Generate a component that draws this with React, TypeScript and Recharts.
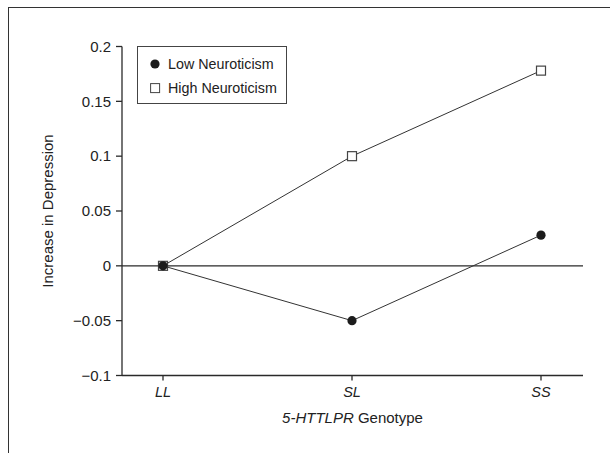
import { LineChart, Line, XAxis, YAxis, ReferenceLine } from "recharts";

const genotypes = ["LL", "SL", "SS"];
const lowNeuroticism = [0, -0.05, 0.028];
const highNeuroticism = [0, 0.1, 0.178];
const yTicks = [-0.1, -0.05, 0, 0.05, 0.1, 0.15, 0.2];

const data = genotypes.map((g, i) => ({
  genotype: g,
  low: lowNeuroticism[i],
  high: highNeuroticism[i],
}));

const FONT = "'Liberation Sans', Arial, sans-serif";
const INK = "#2a2a2a";

const fmt = (v: number) => (v === 0 ? "0" : v < 0 ? "\u2212" + Math.abs(v) : String(v));

function CircleDot(props: any) {
  const { cx, cy } = props;
  if (cx == null || cy == null) return null;
  return <circle cx={cx} cy={cy} r={4.6} fill="#1c1c1c" />;
}

function SquareDot(props: any) {
  const { cx, cy } = props;
  if (cx == null || cy == null) return null;
  return <rect x={cx - 4.5} y={cy - 4.5} width={9} height={9} fill="#fff" stroke="#444" strokeWidth={1.2} />;
}

// legend sits inside the plot area, top-left, with a thin frame
function LegendBox() {
  const row = { display: "flex", alignItems: "center", height: 24, whiteSpace: "nowrap" } as const;
  return (
    <div
      style={{
        position: "absolute",
        left: 137,
        top: 46,
        border: "1px solid #444",
        boxSizing: "border-box",
        width: 150,
        height: 58,
        padding: "5px 0 0 12px",
        fontFamily: FONT,
        fontSize: 14.3,
        color: "#222",
        background: "#fff",
      }}
    >
      <div style={row}>
        <svg width={12} height={12} style={{ marginRight: 6 }}>
          <circle cx={5} cy={6} r={4.6} fill="#1c1c1c" />
        </svg>
        Low Neuroticism
      </div>
      <div style={row}>
        <svg width={12} height={12} style={{ marginRight: 6 }}>
          <rect x={0.6} y={1.6} width={9} height={9} fill="#fff" stroke="#444" strokeWidth={1} />
        </svg>
        High Neuroticism
      </div>
    </div>
  );
}

function YLabel(props: any) {
  const vb = props.viewBox || { y: 46.5, height: 329 };
  const cy = vb.y + vb.height / 2;
  return (
    <text
      x={47}
      y={cy}
      transform={`rotate(-90 47 ${cy})`}
      textAnchor="middle"
      dominantBaseline="central"
      fontFamily={FONT}
      fontSize={15}
      fill="#222"
    >
      Increase in Depression
    </text>
  );
}

function XLabel(props: any) {
  const vb = props.viewBox || { x: 122, width: 461 };
  const cx = vb.x + vb.width / 2;
  return (
    <text x={cx} y={423} textAnchor="middle" fontFamily={FONT} fontSize={15} fill="#222">
      <tspan fontStyle="italic">5-HTTLPR</tspan> Genotype
    </text>
  );
}

export default function App() {
  return (
    <div style={{ position: "absolute", left: 0, top: 0, width: 610, height: 453, background: "#fff" }}>
      <div
        style={{
          position: "absolute",
          left: 8,
          top: 7,
          right: 0,
          bottom: 0,
          borderTop: "1.5px solid #333",
          borderLeft: "1.5px solid #333",
        }}
      />
      <LineChart
        width={610}
        height={453}
        data={data}
        margin={{ top: 46.5, right: 27, bottom: 17.5, left: 0 }}
        style={{ position: "absolute", left: 0, top: 0 }}
      >
        <XAxis
          dataKey="genotype"
          height={60}
          padding={{ left: 41, right: 42 }}
          stroke={INK}
          strokeWidth={1.3}
          tickSize={5}
          tickMargin={6.5}
          tick={{ fontFamily: FONT, fontSize: 14.5, fontStyle: "italic", fill: "#222" }}
          label={{ content: XLabel }}
        />
        <YAxis
          width={122}
          domain={[-0.1, 0.2]}
          ticks={yTicks}
          tickFormatter={fmt}
          interval={0}
          stroke={INK}
          strokeWidth={1.3}
          tickSize={6}
          tickMargin={5}
          tick={{ fontFamily: FONT, fontSize: 15, fill: "#222" }}
          label={{ content: YLabel }}
        />
        <ReferenceLine y={0} stroke={INK} strokeWidth={1.2} />
        <Line
          dataKey="high"
          stroke="#333"
          strokeWidth={1}
          dot={<SquareDot />}
          activeDot={false}
          isAnimationActive={false}
        />
        <Line
          dataKey="low"
          stroke="#333"
          strokeWidth={1}
          dot={<CircleDot />}
          activeDot={false}
          isAnimationActive={false}
        />
      </LineChart>
      <LegendBox />
    </div>
  );
}
